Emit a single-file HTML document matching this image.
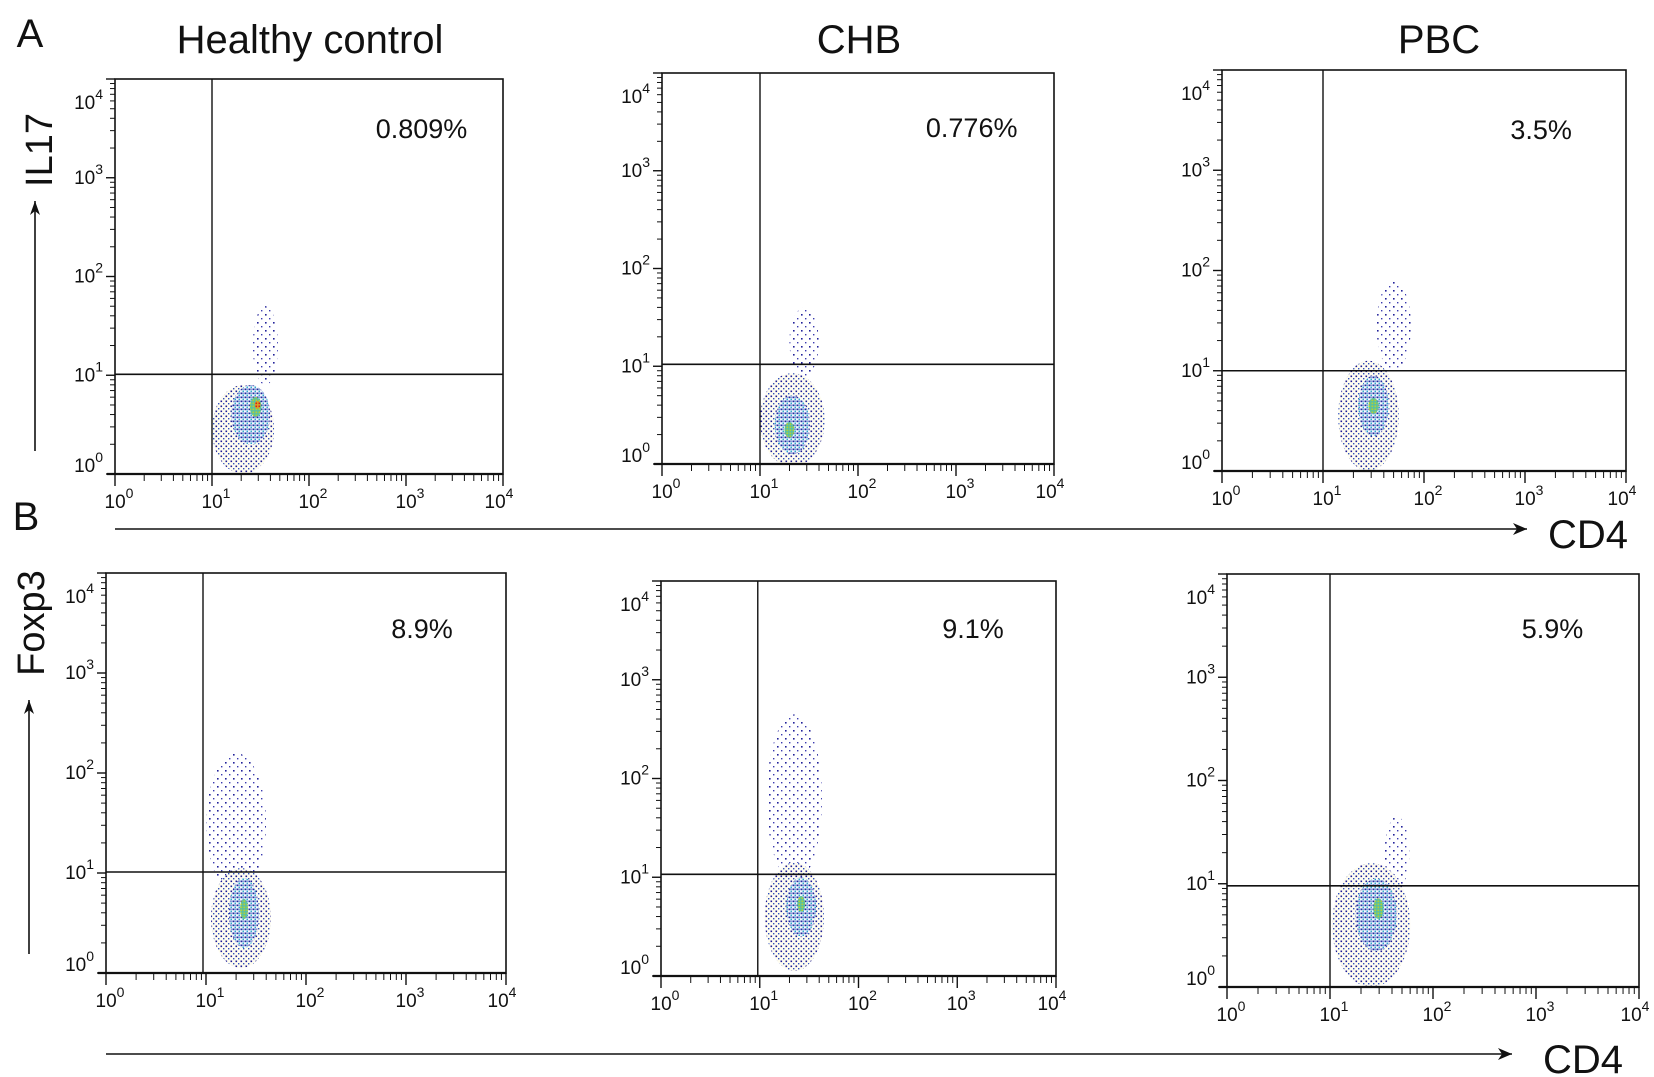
<!DOCTYPE html>
<html><head><meta charset="utf-8"><style>
html,body{margin:0;padding:0;background:#fff;}
svg{display:block;font-family:"Liberation Sans",sans-serif;}
</style></head><body>
<svg id="fig" width="1654" height="1077" viewBox="0 0 1654 1077" xmlns="http://www.w3.org/2000/svg">
<defs>
<pattern id="lv0" width="8" height="8" patternUnits="userSpaceOnUse"><rect x="1" y="2" width="1.6" height="1.6" fill="#22229a"/><rect x="5" y="6" width="1.4" height="1.4" fill="#3a3ab0"/></pattern>
<pattern id="lv1" width="5" height="5" patternUnits="userSpaceOnUse"><rect width="5" height="5" fill="#fffdf0"/><rect x="0.5" y="0.5" width="1.6" height="1.6" fill="#1c1c96"/><rect x="3" y="3" width="1.4" height="1.4" fill="#3050c0"/></pattern>
<pattern id="lv2" width="4" height="4" patternUnits="userSpaceOnUse"><rect width="4" height="4" fill="#f4f8ff"/><rect x="0.5" y="0.5" width="1.7" height="1.7" fill="#1e2a9c"/><rect x="2.5" y="2.5" width="1.5" height="1.5" fill="#30a8c8"/><rect x="2.5" y="0.5" width="1.2" height="1.2" fill="#2a4ab8"/></pattern>
<pattern id="lv3" width="3" height="3" patternUnits="userSpaceOnUse"><rect width="3" height="3" fill="#5ac0a0"/><rect x="0.5" y="0.5" width="1.6" height="1.6" fill="#b8d030"/></pattern>
<pattern id="lv4" width="3" height="3" patternUnits="userSpaceOnUse"><rect width="3" height="3" fill="#e0a020"/><rect x="0.5" y="0.5" width="1.6" height="1.6" fill="#d02020"/></pattern>
</defs>
</svg>
<script>
// ---- data ----
const panelTitles = ["Healthy control","CHB","PBC"];
const percentLabels = ["0.809%","0.776%","3.5%","8.9%","9.1%","5.9%"];
const decadeTicks = [0,1,2,3,4];
const gateX = [1.0,1.0,1.0,0.97,0.98,1.0];
const gateY = [1.01,1.02,1.0,1.01,1.03,0.98];
// cell density blobs per panel: [log CD4 centre, log marker centre, x radius, y radius, density level]
const blobsA1 = [[1.55,1.3,0.13,0.4,0],[1.32,0.45,0.32,0.45,1],[1.4,0.6,0.2,0.3,2],[1.45,0.68,0.06,0.1,3],[1.47,0.7,0.03,0.04,4]];
const blobsA2 = [[1.45,1.25,0.15,0.35,0],[1.33,0.45,0.33,0.48,1],[1.33,0.4,0.18,0.3,2],[1.3,0.35,0.05,0.08,3]];
const blobsA3 = [[1.7,1.45,0.17,0.45,0],[1.45,0.55,0.3,0.55,1],[1.5,0.65,0.15,0.3,2],[1.5,0.65,0.05,0.08,3]];
const blobsB1 = [[1.3,1.5,0.3,0.7,0],[1.35,0.55,0.3,0.5,1],[1.38,0.6,0.15,0.35,2],[1.38,0.64,0.04,0.1,3]];
const blobsB2 = [[1.35,1.8,0.28,0.85,0],[1.35,0.6,0.3,0.55,1],[1.42,0.7,0.15,0.3,2],[1.42,0.73,0.04,0.08,3]];
const blobsB3 = [[1.65,1.3,0.12,0.35,0],[1.4,0.6,0.38,0.6,1],[1.45,0.7,0.2,0.35,2],[1.47,0.76,0.05,0.1,3]];
const allBlobs = [blobsA1,blobsA2,blobsA3,blobsB1,blobsB2,blobsB3];
// ---- layout ----
const frames = [[115,503,79,474],[662,1054,73,464],[1222,1626,70,471],[106,506,573,973],[661,1056,581,976],[1227,1639,574,987]];
const NS="http://www.w3.org/2000/svg";
const svg=document.getElementById('fig');
function el(tag,attrs,parent){const e=document.createElementNS(NS,tag);for(const k in attrs)e.setAttribute(k,attrs[k]);(parent||svg).appendChild(e);return e;}
function txt(x,y,s,size,anchor,parent){const t=el('text',{x:x,y:y,'font-size':size,'text-anchor':anchor||'middle',fill:'#111'},parent);t.textContent=s;return t;}
function pow10(g,x,y,e,anchor){
  const t=el('text',{x:x,y:y,'font-size':19,'text-anchor':anchor||'middle',fill:'#111'},g);
  t.appendChild(document.createTextNode('10'));
  const s=document.createElementNS(NS,'tspan');s.setAttribute('dy','-10');s.setAttribute('font-size','14');s.textContent=String(e);t.appendChild(s);
  
  
}
panelTitles.forEach((s,i)=>{const t=txt([310,859,1439][i],53,s,40);
  
  });
let t;
t=txt(30,47,'A',40);
t=txt(26,530,'B',40);
function arrow(x1,y1,x2,y2,name){const g=el('g',{});
  el('line',{x1:x1,y1:y1,x2:x2,y2:y2,stroke:'#111','stroke-width':1.6},g);
  if(y1===y2){el('polygon',{points:`${x2},${y2} ${x2-14},${y2-6} ${x2-10},${y2} ${x2-14},${y2+6}`,fill:'#111'},g);}
  else{el('polygon',{points:`${x2},${y2} ${x2-5},${y2+14} ${x2},${y2+10} ${x2+5},${y2+14}`,fill:'#111'},g);}}
arrow(115,529,1527,529,'x-axis-arrow-a');
arrow(106,1054,1512,1054,'x-axis-arrow-b');
arrow(35,451,35,201,'y-axis-arrow-a');
arrow(29,954,29,700,'y-axis-arrow-b');
t=txt(1588,548,'CD4',40);
t=txt(1583,1073,'CD4',40);
t=txt(0,0,'IL17',38);t.setAttribute('transform','translate(52,150) rotate(-90)');
t=txt(0,0,'Foxp3',38);t.setAttribute('transform','translate(44,623) rotate(-90)');

frames.forEach((f,i)=>{
  const [x0,x1,y0,y1]=f;
  const sx=v=>x0+(x1-x0)*v/4, sy=v=>y1-(y1-y0)*v/4;
  const g=el('g',{});
  
  
  const cid='clip'+i;
  const cp=el('clipPath',{id:cid},g);el('rect',{x:x0,y:y0,width:x1-x0,height:y1-y0},cp);
  const dg=el('g',{'clip-path':`url(#${cid})`},g);
  
  
  allBlobs[i].forEach(b=>{
    const e=el('ellipse',{cx:sx(b[0]),cy:sy(b[1]),rx:(x1-x0)*b[2]/4,ry:(y1-y0)*b[3]/4,fill:`url(#lv${b[4]})`},dg);
    
    
  });
  const fr=el('rect',{x:x0,y:y0,width:x1-x0,height:y1-y0,fill:'none',stroke:'#111','stroke-width':1.6},g);
  
  
  el('line',{x1:x0-8,y1:y1,x2:x1,y2:y1,stroke:'#111','stroke-width':2.2},g);
  const gv=el('line',{x1:sx(gateX[i]),y1:y0,x2:sx(gateX[i]),y2:y1,stroke:'#111','stroke-width':1.4},g);
  
  
  const gh=el('line',{x1:x0,y1:sy(gateY[i]),x2:x1,y2:sy(gateY[i]),stroke:'#111','stroke-width':1.6},g);
  
  
  decadeTicks.forEach(d=>{
    el('line',{x1:sx(d),y1:y1,x2:sx(d),y2:y1+12,stroke:'#111','stroke-width':1.4},g);
    el('line',{x1:x0,y1:sy(d),x2:x0-9,y2:sy(d),stroke:'#111','stroke-width':1.4},g);
    if(d<4){for(let m=2;m<=9;m++){const v=d+Math.log10(m);
      el('line',{x1:sx(v),y1:y1,x2:sx(v),y2:y1+7,stroke:'#111','stroke-width':1},g);
      el('line',{x1:x0,y1:sy(v),x2:x0-5,y2:sy(v),stroke:'#111','stroke-width':1},g);}}
    pow10(g,sx(d)+(d===4?-4:4),y1+34,d);
    pow10(g,x0-12,sy(d)+(d===4?30:(d===0?-2:6)),d,'end');
  });
  const p=txt((x1-x0)*0.79+x0,[138,137,139,638,638,638][i],percentLabels[i],27,'middle',g);
  
  
});
</script>
</body></html>
